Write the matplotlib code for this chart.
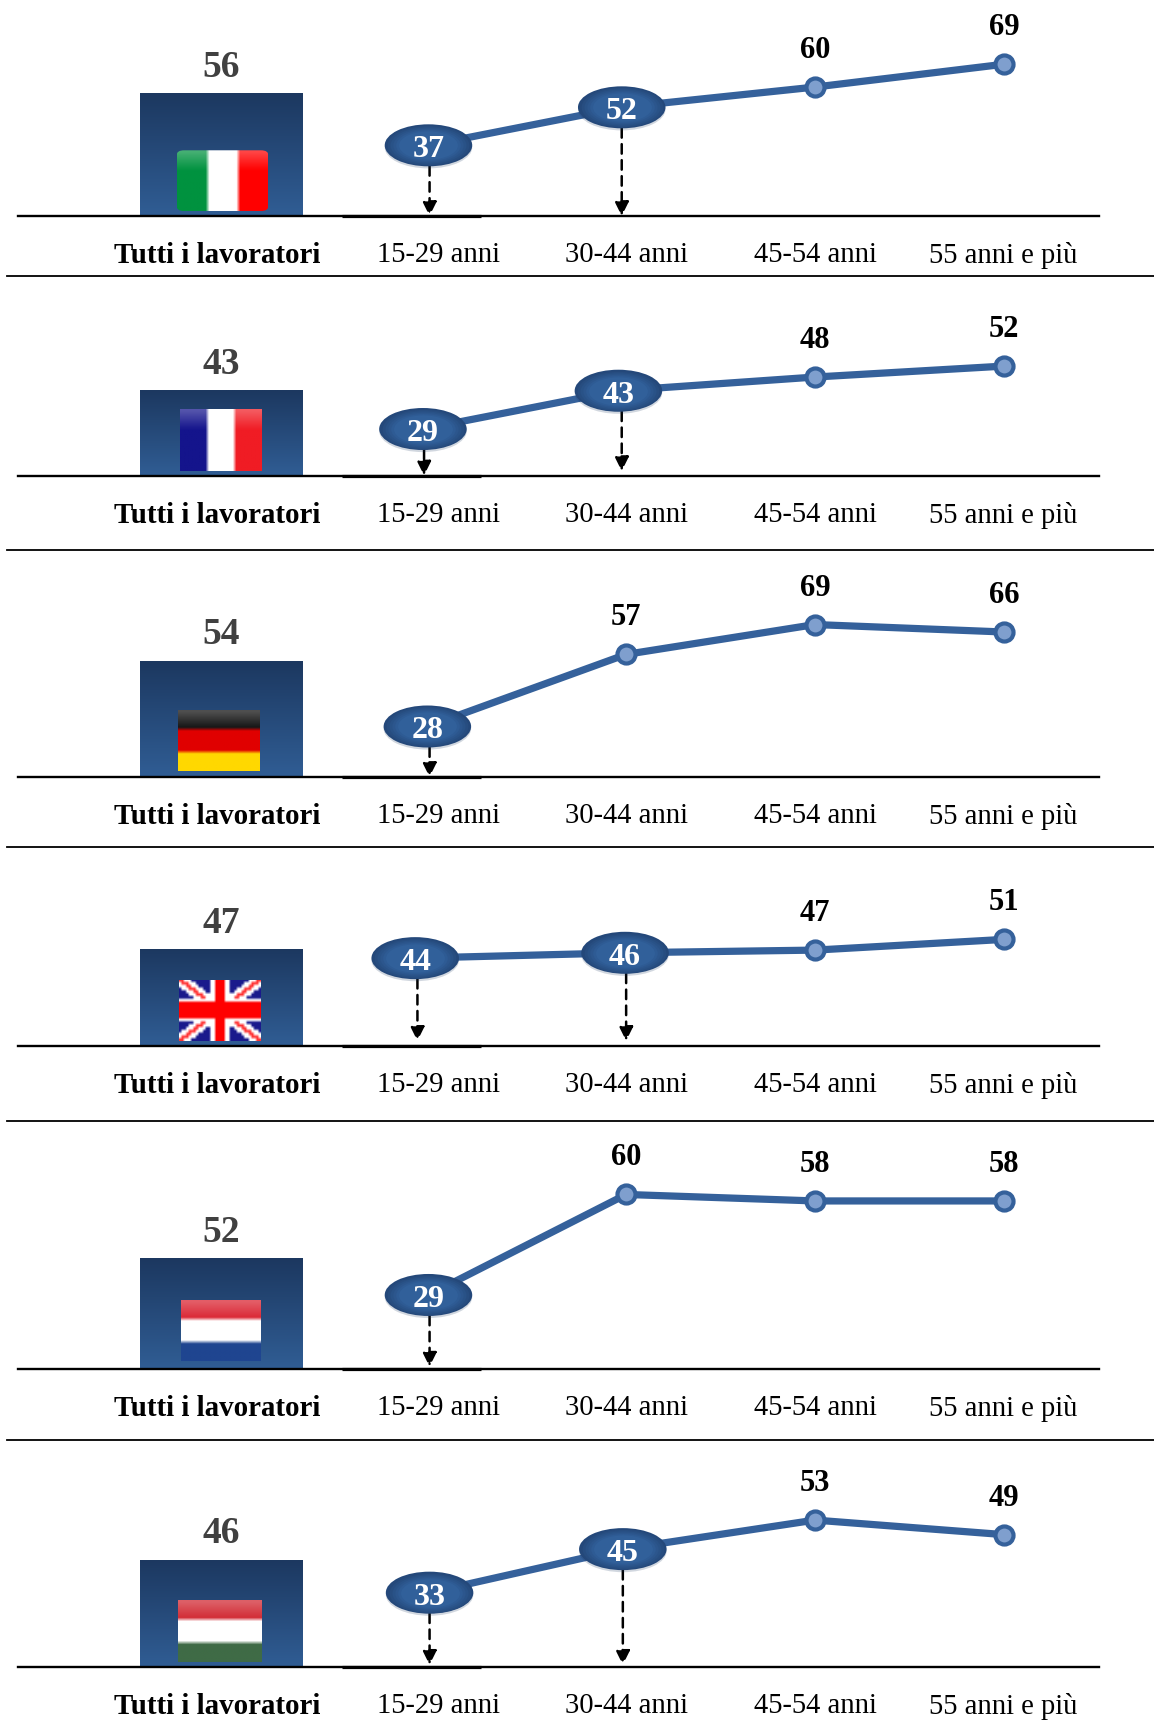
import numpy as np
import matplotlib
matplotlib.use("Agg")
import matplotlib.pyplot as plt
import matplotlib.patheffects as pe
from matplotlib.colors import to_rgb
from matplotlib.lines import Line2D
from matplotlib.patches import FancyBboxPatch
from matplotlib.path import Path
from matplotlib.transforms import Affine2D

plt.rcParams['font.family'] = ['Liberation Serif', 'DejaVu Serif']

W, H = 1154, 1731
S = W / 1045  # layout numbers below are on a 1045 wide grid

age_labels = ["15-29 anni", "30-44 anni", "45-54 anni", "55 anni e più"]
all_label = "Tutti i lavoratori"

italy = [37, 52, 60, 69]
france = [29, 43, 48, 52]
germany = [28, 57, 69, 66]
uk = [44, 46, 47, 51]
netherlands = [29, 60, 58, 58]
hungary = [33, 45, 53, 49]
series = [italy, france, germany, uk, netherlands, hungary]

totals = [56, 43, 54, 47, 52, 46]
flags = ["it", "fr", "de", "uk", "nl", "hu"]

# how many leading points of each row get the big oval and the arrow
n_bubbles = [2, 2, 1, 2, 1, 2]

# layout
baselines = [196.5, 431.5, 704.5, 948.5, 1240.5, 1510.5]
separators = [251, 499, 768, 1016, 1305]
bar_heights = [111, 77, 105, 88, 100, 97]
line_scale = [2.294, 2.477, 2.252, 2.423, 2.936, 3.286]
line_floor = [9.1, 12.0, 7.7, 11.0, 6.2, 12.5]
panel_tops = [0, 256, 504, 773, 1021, 1310]
bubble_dx = [[-8, -4], [-13, -7], [-9], [-20, -1], [-8], [-7, -3]]
arrow_dx = [[-7, -4], [-12, -4], [-7], [-18, 0], [-7], [-7, -3]]
arrow_gap = [[0, 0], [0, 4], [0], [5, 5], [2], [2, 2]]
flag_boxes = [(160, 137, 243, 192), (163, 371, 237, 427), (161, 644, 235, 699),
              (162, 888, 236, 944), (164, 1178, 236, 1233), (161, 1450, 237, 1506)]

X0, STEP = 396.0, 171.0
LINE_BLUE = "#35619b"
oval = Path.unit_circle().transformed(Affine2D().scale(1.0, 0.48))


def make_axes(fig, x0, x1, top, bottom):
    # axes placed by grid numbers, y measured from the top of the figure
    ax = fig.add_axes([x0 * S / W, 1 - bottom * S / H,
                       (x1 - x0) * S / W, (bottom - top) * S / H])
    ax.patch.set_alpha(0)
    return ax


def flag_pixels(code):
    if code == "uk":
        h, w = 22, 34
    else:
        h, w = 16, 24
    yy, xx = np.mgrid[0:h, 0:w]
    v = (xx + 0.5) / w
    u = (yy + 0.5) / h
    img = np.ones((h, w, 3))

    def fill(mask, color):
        img[mask] = to_rgb(color)

    if code == "it":
        fill(v < 0.33, "#00923f")
        fill(v > 0.67, "#ff0000")
    elif code == "fr":
        fill(v < 0.33, "#14148c")
        fill(v > 0.67, "#f01c24")
    elif code == "de":
        fill(u < 0.33, "#0c0c0c")
        fill((u >= 0.33) & (u < 0.67), "#e00000")
        fill(u >= 0.67, "#ffd800")
    elif code == "nl":
        fill(u < 0.33, "#d9202e")
        fill(u >= 0.67, "#1f4590")
    elif code == "hu":
        fill(u < 0.33, "#d0242e")
        fill(u >= 0.67, "#3f6b46")
    elif code == "uk":
        fill(np.ones_like(u, dtype=bool), "#1a1a8c")
        d1 = np.abs(u - v)
        d2 = np.abs(u - (1 - v))
        img[(d1 < 0.13) | (d2 < 0.13)] = (1, 1, 1)
        img[(d1 < 0.04) | (d2 < 0.04)] = (1, 0.2, 0.2)
        img[(np.abs(v - 0.5) < 0.12) | (np.abs(u - 0.5) < 0.2)] = (1, 1, 1)
        img[(np.abs(v - 0.5) < 0.07) | (np.abs(u - 0.5) < 0.13)] = (1, 0, 0)
        return img
    # glossy band along the top edge
    gloss = np.clip(0.3 - 0.9 * u, 0, 1)[..., None]
    return img + (1 - img) * gloss


fig = plt.figure(figsize=(W / 100, H / 100), dpi=100)

for sep in separators:
    fig.add_artist(Line2D([6 * S / W, 1045 * S / W], [1 - sep * S / H] * 2,
                          color="black", lw=1.3))

grad_top = np.array(to_rgb("#1c3860"))
grad_bottom = np.array(to_rgb("#305d94"))
gradient = grad_top + np.linspace(0, 1, 64)[:, None, None] * (grad_bottom - grad_top)

oval_edge = np.array(to_rgb("#24487a"))
oval_mid = np.array(to_rgb("#31609a"))

for i, values in enumerate(series):
    base = baselines[i]
    top = panel_tops[i]

    # bar for all workers, with the flag on top of it
    axb = make_axes(fig, 127, 274, base - bar_heights[i], base)
    axb.imshow(gradient, extent=(0, 1, 0, totals[i]), aspect="auto", interpolation="bilinear")
    axb.set_xlim(0, 1)
    axb.set_ylim(0, totals[i])
    axb.axis("off")
    axb.annotate(str(totals[i]), (0.5, totals[i]), xytext=(0, 7), textcoords="offset points",
                 ha="center", va="bottom", fontsize=27, fontweight="bold", color="#404040",
                 annotation_clip=False)

    fx0, fy0, fx1, fy1 = flag_boxes[i]
    axf = make_axes(fig, fx0, fx1, fy0, fy1)
    im = axf.imshow(flag_pixels(flags[i]), extent=(0, 1, 0, 1), aspect="auto", interpolation="bilinear")
    axf.axis("off")
    if flags[i] == "it":
        clip = FancyBboxPatch((0, 0), 1, 1, boxstyle="round,pad=0,rounding_size=0.08",
                              transform=axf.transData, fc="none", ec="none")
        axf.add_patch(clip)
        im.set_clip_path(clip)

    # line panel, the bottom spine is the baseline
    ax = make_axes(fig, 16, 995, top, base)
    ax.set_xlim((16 - X0) / STEP, (995 - X0) / STEP)
    ax.set_ylim(line_floor[i], line_floor[i] + (base - top) / line_scale[i])
    for name in ["top", "left", "right"]:
        ax.spines[name].set_visible(False)
    ax.spines["bottom"].set_linewidth(1.7)
    ax.set_yticks([])
    ax.set_xticks([(197 - X0) / STEP, 0.005, 1.0, 2.0, 2.995])
    ax.set_xticklabels([all_label] + age_labels, fontsize=20.6)
    ax.get_xticklabels()[0].set_fontweight("bold")
    ax.get_xticklabels()[0].set_fontsize(20.9)
    ax.tick_params(axis="x", length=0, pad=18)
    ax.hlines(line_floor[i], (310 - X0) / STEP, (436 - X0) / STEP, color="black", lw=2.3, clip_on=False)

    nb = n_bubbles[i]
    dx = bubble_dx[i] + [0] * (4 - nb)
    xs = np.arange(4) + np.array(dx) / STEP
    ax.plot(xs, values, color=LINE_BLUE, lw=5.2, solid_capstyle="round", clip_on=False, zorder=3)

    # plain points with the value above
    ax.plot(xs[nb:], values[nb:], "o", ms=13, mfc="#7f9fce", mec=LINE_BLUE, mew=3, clip_on=False, zorder=4)
    for x, v in zip(xs[nb:], values[nb:]):
        ax.annotate(str(v), (x, v), xytext=(0, 27), textcoords="offset points", ha="center", va="center",
                    fontsize=22, fontweight="bold", color="black", annotation_clip=False)

    # ovals and arrows for the younger groups
    for j in range(nb):
        ax_x = j + arrow_dx[i][j] / STEP
        ax.annotate("", xy=(ax_x, line_floor[i]), xytext=(ax_x, values[j]),
                    arrowprops=dict(arrowstyle="-|>,head_width=0.42,head_length=0.85", color="black",
                                    lw=1.8, linestyle=(0, (3.8, 2.6)), shrinkA=15,
                                    shrinkB=arrow_gap[i][j] * S * 0.72),
                    zorder=2)
        # soft shading inside the oval
        sizes = np.linspace(63, 30, 9)
        for k, ms in enumerate(sizes):
            col = oval_edge + (oval_mid - oval_edge) * min(1.0, k / 5)
            line, = ax.plot([xs[j]], [values[j]], marker=oval, ms=ms, mfc=col, mec="none",
                            ls="none", clip_on=False, zorder=5 + k * 0.01)
            if k == 0:
                line.set_path_effects([pe.SimplePatchShadow(offset=(0, -1.5), alpha=0.2, shadow_rgbFace="#1c3860"),
                                       pe.Normal()])
        ax.text(xs[j], values[j], str(values[j]), color="white", ha="center", va="center_baseline",
                fontsize=23, fontweight="bold", zorder=6)

fig.savefig("out.png", dpi=100)
